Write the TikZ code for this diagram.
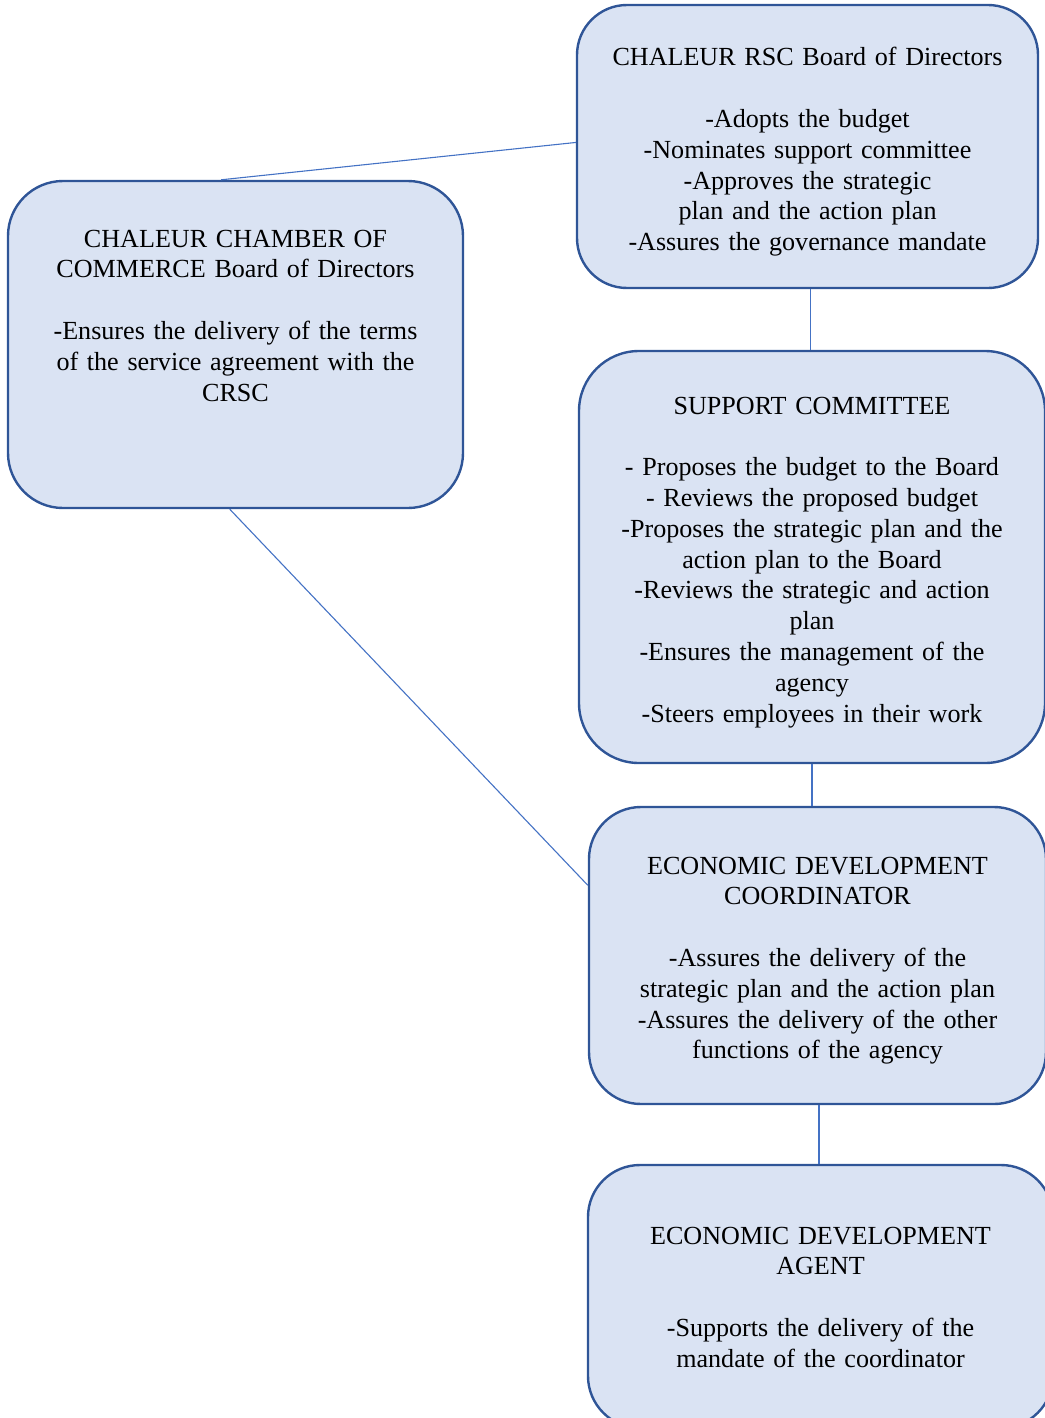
\documentclass[tikz,border=0pt]{standalone}
\usepackage{fontspec}
\setmainfont{Liberation Serif}
\usetikzlibrary{calc}
\definecolor{boxfill}{HTML}{DAE3F3}
\definecolor{boxline}{HTML}{2F5597}
\definecolor{linkblue}{HTML}{4472C4}

\begin{document}
\begin{tikzpicture}[x=1pt,y=-1pt,
  box/.style={draw=boxline,line width=2.4pt,fill=boxfill,align=center,
    inner sep=5pt,font=\fontsize{26.1}{30.8}\selectfont,text height=20pt},
  link/.style={draw=linkblue,line width=1.1pt}]

\useasboundingbox (0,0) rectangle (1044,1418);

% boxes
\node[box,minimum width=461pt,minimum height=283pt,rounded corners=50pt,
  text width=440pt,text depth=181pt] (rsc) at (807.5,146.5)
  {CHALEUR RSC Board of Directors\\[30.8pt]-Adopts the budget\\-Nominates support committee\\-Approves the strategic\\plan and the action plan\\-Assures the governance mandate};

\node[box,minimum width=455pt,minimum height=327pt,rounded corners=55pt,
  text width=435pt,text depth=215pt] (chamber) at (235.5,344.5)
  {CHALEUR CHAMBER OF\\COMMERCE Board of Directors\\[30.8pt]-Ensures the delivery of the terms\\of the service agreement with the\\CRSC};

\node[box,minimum width=466pt,minimum height=412pt,rounded corners=60pt,
  text width=445pt,text depth=306pt] (support) at (812,557)
  {SUPPORT COMMITTEE\\[30.8pt]- Proposes the budget to the Board\\- Reviews the proposed budget\\-Proposes the strategic plan and the\\action plan to the Board\\-Reviews the strategic and action\\plan\\-Ensures the management of the\\agency\\-Steers employees in their work};

\node[box,minimum width=457pt,minimum height=297pt,rounded corners=52pt,
  text width=437pt,text depth=183pt] (coord) at (817.5,955.5)
  {ECONOMIC DEVELOPMENT\\COORDINATOR\\[30.8pt]-Assures the delivery of the\\strategic plan and the action plan\\-Assures the delivery of the other\\functions of the agency};

\node[box,minimum width=465pt,minimum height=263pt,rounded corners=52pt,
  text width=445pt,text depth=125pt] (agent) at (820.5,1296.5)
  {ECONOMIC DEVELOPMENT\\AGENT\\[30.8pt]-Supports the delivery of the\\mandate of the coordinator};

% links
\draw[link] (chamber.95) -- (rsc.179);
\draw[link] ([xshift=3pt]rsc.south) -- ([xshift=3pt]rsc.south |- support.north);
\draw[link] (support.south) -- (support.south |- coord.north);
\draw[link] (chamber.268) -- (coord.163);
\draw[link] ([xshift=1.5pt]coord.south) -- ([xshift=1.5pt]coord.south |- agent.north);

\end{tikzpicture}
\end{document}
